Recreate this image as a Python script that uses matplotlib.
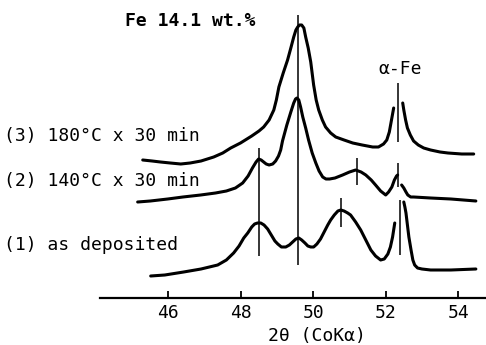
import numpy as np
import matplotlib
matplotlib.use("Agg")
import matplotlib.pyplot as plt

# XRD traces (2theta in deg, intensity in arbitrary units incl. offset)
# nan marks the gap drawn around the alpha-Fe reference line
tt3 = [45.29, 45.55, 45.78, 46.05, 46.34, 46.60, 46.90, 47.25, 47.50, 47.72, 47.99, 48.30,
       48.50, 48.63, 48.78, 48.91, 48.98, 49.05, 49.17, 49.29, 49.38, 49.46, 49.52, 49.57,
       49.62, 49.68, 49.74, 49.79, 49.86, 49.93, 50.01, 50.08, 50.15, 50.25, 50.34, 50.48,
       50.62, 50.85, 51.09, 51.35, 51.64, 51.80, 51.94, 52.03, 52.10, 52.16, 52.22, np.nan,
       52.47, 52.50, 52.55, 52.60, 52.68, 52.77, 52.90, 53.05, 53.24, 53.50, 53.72, 54.10, 54.43]
int3 = [140, 139, 138, 137, 136, 137, 139, 143, 147, 152, 157, 164,
        169, 173, 180, 190, 200, 213, 227, 240, 252, 263, 270, 273,
        275, 275, 272, 263, 252, 238, 215, 200, 190, 180, 173, 167,
        163, 160, 157, 155, 153, 153, 156, 160, 168, 180, 192, np.nan,
        197, 190, 180, 172, 165, 159, 155, 152, 150, 148, 147, 146, 146]

tt2 = [45.15, 45.50, 45.98, 46.40, 46.89, 47.30, 47.60, 47.85, 48.05, 48.20, 48.32, 48.42,
       48.49, 48.56, 48.63, 48.70, 48.78, 48.88, 48.96, 49.04, 49.10, 49.15, 49.21, 49.27,
       49.38, 49.46, 49.51, 49.55, 49.60, 49.65, 49.71, 49.79, 49.87, 49.97, 50.07, 50.16,
       50.26, 50.35, 50.45, 50.60, 50.81, 51.00, 51.17, 51.32, 51.45, 51.60, 51.72, 51.86,
       52.00, 52.08, 52.17, 52.24, 52.30, 52.33, np.nan, 52.44, 52.50, 52.56, 52.61, 52.69,
       52.77, 53.24, 53.80, 54.49]
int2 = [98, 99, 101, 103, 105, 107, 109, 112, 117, 124, 132, 138,
        141, 140, 138, 136, 135, 136, 139, 144, 150, 159, 167, 175,
        188, 197, 201, 202, 200, 193, 183, 172, 160, 147, 137, 129,
        123, 121, 121, 122, 125, 128, 130, 128, 125, 120, 115, 109,
        105, 108, 113, 120, 124, 125, np.nan, 115, 112, 108, 105, 103,
        103, 102, 101, 99]

tt1 = [45.51, 45.90, 46.42, 46.90, 47.36, 47.60, 47.80, 47.95, 48.08, 48.19, 48.30, 48.38,
       48.46, 48.55, 48.64, 48.74, 48.84, 48.94, 49.02, 49.12, 49.24, 49.34, 49.43, 49.52,
       49.60, 49.68, 49.77, 49.85, 49.93, 50.01, 50.10, 50.20, 50.30, 50.40, 50.48, 50.58,
       50.68, 50.76, 50.85, 50.95, 51.03, 51.17, 51.31, 51.45, 51.59, 51.72, 51.86, 51.96,
       52.06, 52.13, 52.19, 52.25, np.nan, 52.50, 52.53, 52.56, 52.60, 52.64, 52.70, 52.75,
       52.80, 52.88, 53.00, 53.24, 53.80, 54.49]
int1 = [24, 25, 28, 31, 35, 40, 47, 54, 62, 67, 73, 76,
        77, 77, 75, 71, 65, 59, 56, 53, 53, 55, 58, 61,
        62, 60, 57, 54, 53, 53, 56, 61, 68, 75, 80, 85,
        89, 90, 89, 87, 85, 78, 70, 60, 50, 44, 40, 41,
        46, 53, 63, 77, np.nan, 98, 93, 87, 75, 63, 50, 40,
        35, 32, 31, 30, 30, 31]

# peak marker lines: position, bottom, top
mark_pos = [48.49, 49.57, 51.20, 50.76, 52.33, 52.33, 52.39]
mark_lo = [44, 35, 115, 73, 158, 113, 45]
mark_hi = [152, 285, 142, 102, 217, 137, 100]

xticks = [46, 48, 50, 52, 54]
labels = ["(3) 180°C x 30 min", "(2) 140°C x 30 min", "(1) as deposited"]

W, H = 486, 345
fig = plt.figure(figsize=(W / 100, H / 100), dpi=100)
ax = fig.add_axes([100 / W, (H - 298) / H, 386 / W, 298 / H])

for tt, yy in [(tt3, int3), (tt2, int2), (tt1, int1)]:
    ax.plot(tt, yy, color="black", lw=2.2, solid_capstyle="round", solid_joinstyle="round")

ax.vlines(mark_pos, mark_lo, mark_hi, color="black", lw=1.1)

ax.set_xlim(44.11, 54.77)
ax.set_ylim(2, 300)
for s in ["left", "right", "top"]:
    ax.spines[s].set_visible(False)
ax.spines["bottom"].set_linewidth(1.6)
ax.set_yticks([])
ax.set_xticks(xticks)
ax.set_xticklabels([str(t) for t in xticks], family="DejaVu Sans Mono", fontsize=13)
ax.tick_params(axis="x", direction="in", length=5, width=1.3, pad=4)

def ftext(x, y, s, **kw):
    fig.text(x / W, 1 - y / H, s, family="DejaVu Sans Mono", fontsize=13, va="center", **kw)

ftext(317, 336, "2θ (CoKα)", ha="center")
ftext(125, 21, "Fe 14.1 wt.%", ha="left", fontweight="bold")
ftext(400, 69, "α-Fe", ha="center")
ftext(4, 136, labels[0], ha="left")
ftext(4, 181, labels[1], ha="left")
ftext(4, 245, labels[2], ha="left")

fig.savefig("out.png", dpi=100)
